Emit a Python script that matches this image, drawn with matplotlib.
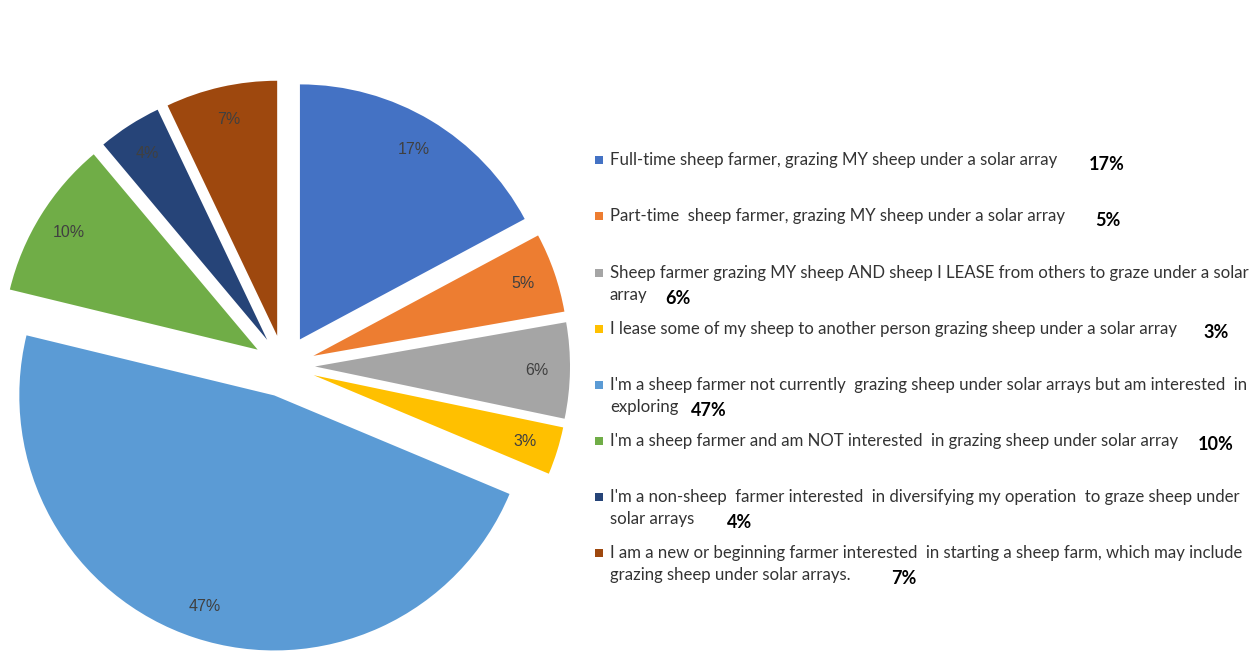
import matplotlib.pyplot as plt

# survey shares (%)
values = [17, 5, 6, 3, 47, 10, 4, 7]
labels = [
    "Full-time sheep farmer, grazing MY sheep under a solar array",
    "Part-time  sheep farmer, grazing MY sheep under a solar array",
    "Sheep farmer grazing MY sheep AND sheep I LEASE from others to graze under a solar\narray",
    "I lease some of my sheep to another person grazing sheep under a solar array",
    "I'm a sheep farmer not currently  grazing sheep under solar arrays but am interested  in\nexploring",
    "I'm a sheep farmer and am NOT interested  in grazing sheep under solar array",
    "I'm a non-sheep  farmer interested  in diversifying my operation  to graze sheep under\nsolar arrays",
    "I am a new or beginning farmer interested  in starting a sheep farm, which may include\ngrazing sheep under solar arrays.",
]
colors = ["#4472C4", "#ED7D31", "#A5A5A5", "#FFC000",
          "#5B9BD5", "#70AD47", "#264478", "#9E480E"]

W, H = 1260, 668
fig = plt.figure(figsize=(W / 100, H / 100), dpi=100)
ax = fig.add_axes([0, 0, 1, 1])

R = 255
wedges, texts, autotexts = ax.pie(
    values, colors=colors, startangle=90, counterclock=False,
    radius=R, center=(284, H - 366), explode=[31] * len(values),
    autopct='%1.0f%%', pctdistance=0.87,
    textprops=dict(color="#404040", fontsize=11.5, family="Liberation Sans"),
)
ax.set_xlim(0, W)
ax.set_ylim(0, H)
ax.set_aspect('equal')
ax.axis('off')

# legend, laid out by hand like the original
rows = [160, 216, 273, 329, 385, 441, 497, 553]   # first text line (px from top)
pct_pos = [(1107, 165), (1108, 220), (678, 298), (1216, 332),
           (683, 411), (1216, 445), (740, 523), (904, 579)]
line_h = 22
renderer = fig.canvas.get_renderer()
for i, lab in enumerate(labels):
    y0 = H - rows[i]
    ax.scatter([599], [y0], marker='s', s=40, color=colors[i], linewidths=0)
    lines = lab.split("\n")
    for k, line in enumerate(lines):
        t = ax.text(610, y0 - k * line_h, line, fontsize=12.1, family="Lato",
                    color="#333333", va='center', ha='left')
    # keep the bold share clear of the last text line
    x_end = t.get_window_extent(renderer).x1
    px, py = pct_pos[i]
    if len(lines) > 1:
        px = max(px, x_end + 30)
    ax.text(px, H - py, f"{values[i]}%", fontsize=13, family="Lato",
            fontweight='bold', color="black", va='center', ha='center')

fig.savefig("out.png", dpi=100)
